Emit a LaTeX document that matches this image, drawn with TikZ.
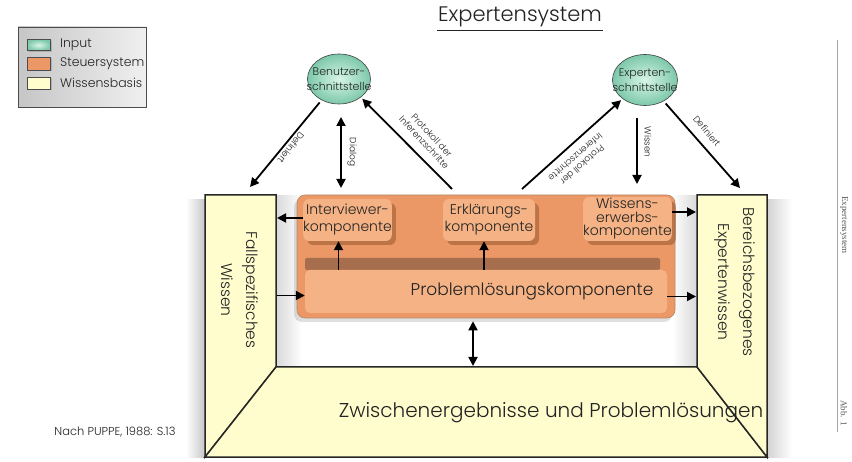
\documentclass[tikz,border=0pt]{standalone}
\usepackage{fontspec}
\setmainfont{Poppins Light}
\newfontfamily\serifrm{Liberation Serif}
\usetikzlibrary{arrows.meta,shapes.geometric,shadows}
\definecolor{mint}{RGB}{125,200,170}
\definecolor{mintlight}{RGB}{215,245,232}
\definecolor{orangeA}{RGB}{236,152,102}
\definecolor{orangeB}{RGB}{245,178,132}
\definecolor{brownD}{RGB}{150,85,45}
\definecolor{wissen}{RGB}{255,253,205}
\definecolor{txt}{RGB}{35,35,35}
\begin{document}
\begin{tikzpicture}[x=1pt,y=-1pt,
  arr/.style={line width=1.8pt,-{Triangle[length=9pt,width=9pt]}},
  darr/.style={line width=1.8pt,{Triangle[length=9pt,width=9pt]}-{Triangle[length=9pt,width=9pt]}},
  lab/.style={font=\fontsize{9}{10.5}\selectfont,text=txt,inner sep=1pt,align=center},
  inp/.style={ellipse,draw=gray!50!black,line width=0.6pt,inner color=mintlight,outer color=mint,
    minimum width=63pt,minimum height=50pt,inner xsep=-12pt,inner ysep=-6pt,align=center,
    font=\fontsize{11}{14.5}\selectfont,text=txt},
  comp/.style={rounded corners=6pt,fill=orangeB,align=center,text=txt,inner sep=0pt,
    font=\fontsize{14}{17}\selectfont,
    drop shadow={shadow xshift=4pt,shadow yshift=-4pt,fill=brownD,opacity=0.55}},
  wall/.style={fill=wissen,draw=black!85,line width=1.5pt,line join=miter},
  walltext/.style={font=\fontsize{15.5}{25}\selectfont,text=txt,align=center},
  swatch/.style={draw=gray!60!black,line width=0.4pt,minimum width=23pt,inner sep=0pt,
    drop shadow={shadow xshift=1.5pt,shadow yshift=-1.5pt,opacity=0.4}},
  legtext/.style={anchor=west,font=\fontsize{12.5}{14}\selectfont,text=txt,inner sep=0pt}
]
\useasboundingbox (0,0) rectangle (852,462);
\fill[white] (0,0) rectangle (852,462);

% title
\node[font=\fontsize{21}{24}\selectfont,text=txt,inner sep=1pt] (title) at (520,17) {Expertensystem};
\draw[txt,line width=1.3pt] ([yshift=-2.5pt]title.south west) -- ([yshift=-2.5pt]title.south east);

% legend
\node[draw=gray!60!black,line width=0.6pt,left color=gray!45,right color=gray!12,
  minimum width=128pt,minimum height=80pt] (legend) at (82,67) {};
\node[swatch,minimum height=11pt,inner color=mintlight,outer color=mint] (swI) at (38.5,45) {};
\node[swatch,minimum height=13pt,fill=orangeA] (swS) at (38.5,63.5) {};
\node[swatch,minimum height=12pt,fill=wissen] (swW) at (38.5,83) {};
\node[legtext] (ltI) at (60,45) {Input};
\node[legtext] (ltS) at (60,63.5) {Steuersystem};
\node[legtext] (ltW) at (60,83) {Wissensbasis};

% soft shadows around the walls
\shade[left color=white,right color=gray!45] (186,200) rectangle (205,457);
\shade[left color=gray!35,right color=white] (767,200) rectangle (792,457);
\shade[left color=gray!30,right color=white] (276,196) rectangle (302,367);
\shade[left color=white,right color=gray!30] (672,196) rectangle (697,367);

% walls (Wissensbasis)
\filldraw[wall] (205,195) -- (276,195) -- (276,367) -- (205,457) -- cycle;
\filldraw[wall] (276,367) -- (697,367) -- (767,457) -- (205,457) -- cycle;
\filldraw[wall] (697,195) -- (767,195) -- (767,457) -- (697,367) -- cycle;
\coordinate (lwE) at (277,0);
\coordinate (rwW) at (696,0);
\coordinate (floorTop) at (473,366);
\node[walltext,rotate=-90] (fw) at (240,290) {Fallspezifisches\\Wissen};
\node[walltext,rotate=-90] (bw) at (735,282) {Bereichsbezogenes\\Expertenwissen};
\node[font=\fontsize{20}{22}\selectfont,text=txt] (zw) at (551,413) {Zwischenergebnisse und Problemlösungen};

% Steuersystem
\node[rounded corners=8pt,fill=orangeA,draw=brownD!70,line width=0.6pt,
  minimum width=378pt,minimum height=123pt,
  drop shadow={shadow xshift=-3pt,shadow yshift=-4pt,opacity=0.25}] (steuer) at (486,256.5) {};
\fill[brownD!85,rounded corners=2pt] (305,258) rectangle (660,270);
\node[rounded corners=5pt,fill=orangeB,minimum width=362pt,minimum height=43pt,inner sep=0pt] (plbox) at (486,291.5) {};
\node[font=\fontsize{17}{18}\selectfont,text=txt] (pltext) at (532,291) {Problemlösungskomponente};
\node[comp,minimum width=85pt,minimum height=42pt] (iv) at (347.5,220) {Interviewer-\\komponente};
\node[comp,minimum width=92pt,minimum height=42pt] (ek) at (489,220) {Erklärungs-\\komponente};
\node[comp,minimum width=85pt,minimum height=44pt,font=\fontsize{14}{13.5}\selectfont] (ww) at (627.5,219) {Wissens-\\erwerbs-\\komponente};

\draw[arr] ([xshift=-9pt]iv.south |- plbox.north) -- ([xshift=-9pt]iv.south);
\draw[arr] ([xshift=-5pt]ek.south |- plbox.north) -- ([xshift=-5pt]ek.south);
\draw[arr] ([yshift=2pt]iv.west) -- ([yshift=2pt]iv.west -| lwE);
\draw[arr] ([yshift=-4pt]plbox.west -| lwE) -- ([yshift=-4pt]plbox.west);
\draw[arr] ([yshift=7pt]ww.east) -- ([yshift=7pt]ww.east -| rwW);
\draw[arr] ([yshift=-5pt]plbox.east) -- ([yshift=-5pt]plbox.east -| rwW);
\draw[darr] ([yshift=-3pt]steuer.south -| floorTop) -- (floorTop);

% interfaces
\node[inp] (bs) at (339,79) {Benutzer-\\schnittstelle};
\node[inp,minimum width=65pt,minimum height=51pt] (es) at (645,80) {Experten-\\schnittstelle};

\coordinate (defL) at (250,187);
\coordinate (dlgT) at (341,117);
\coordinate (dlgB) at (341,188);
\coordinate (pLs) at (452,189);
\coordinate (pRs) at (522,189);
\coordinate (wsT) at (637,118);
\coordinate (wsB) at (637,184);
\coordinate (defR) at (740,188);

\draw[arr,shorten <=3pt] (bs) -- (defL);
\draw[darr] (dlgT) -- (dlgB);
\draw[arr,shorten >=2pt] (pLs) -- (bs.-40);
\draw[arr,shorten >=2pt] (pRs) -- (es.-140);
\draw[arr] (wsT) -- (wsB);
\draw[arr,shorten <=3pt] (es) -- (defR);

\node[lab,rotate=232] (ldef) at (291,148) {Definiert};
\node[lab,rotate=-90] (ldia) at (352,152) {Dialog};
\node[lab,rotate=-47] (lprl) at (428,139) {Protokoll der\\Inferenzschritte};
\node[lab,rotate=221] (lprr) at (579,161) {Protokoll der\\Inferenzschritte};
\node[lab,rotate=-90] (lwis) at (648,142) {Wissen};
\node[lab,rotate=-50] (ldefr) at (707,131) {Definiert};

% source
\node[font=\fontsize{11.5}{13}\selectfont,text=txt] (src) at (115,432) {Nach PUPPE, 1988: S.13};

% right margin
\coordinate (mT) at (837,40);
\coordinate (mB) at (837,432);
\draw[gray!70,line width=1pt] (mT) -- (mB);
\node[rotate=-90,font=\serifrm\fontsize{9}{10}\selectfont,text=gray!70!black] (mtx) at (844,225) {Expertensystem};
\node[rotate=-90,font=\serifrm\fontsize{9}{10}\selectfont,text=gray!70!black] (abb) at (844,413) {Abb. 1};
\end{tikzpicture}
\end{document}
